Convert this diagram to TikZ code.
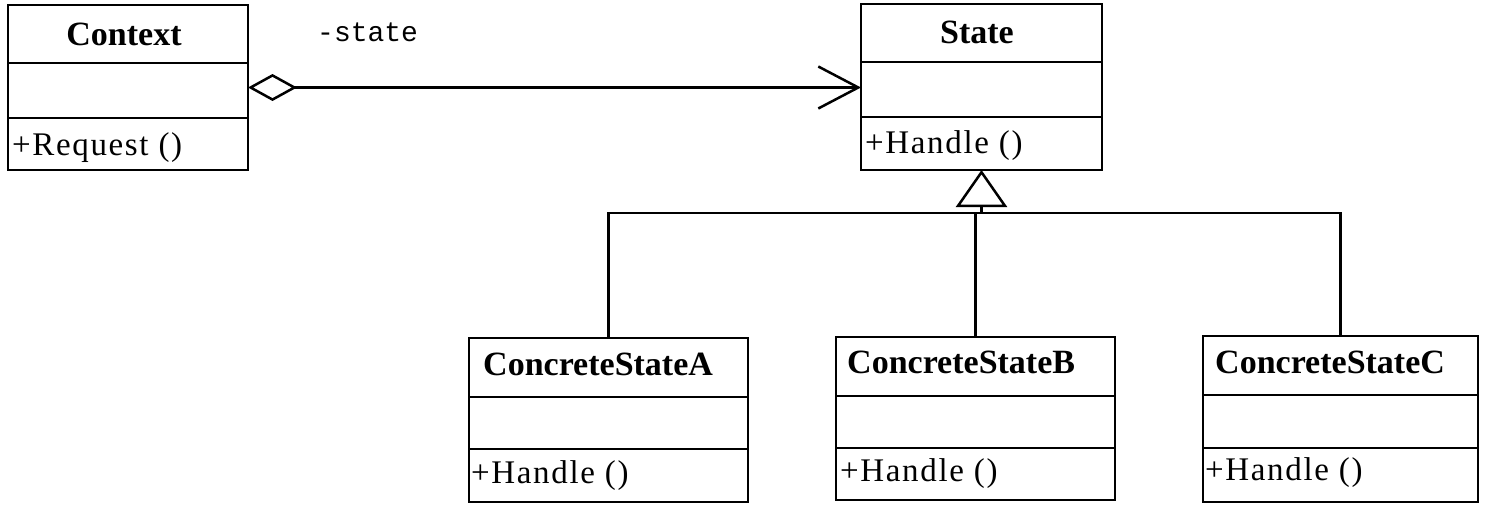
\documentclass[tikz,border=0pt]{standalone}
\usepackage{fontspec}
\setmainfont{Liberation Serif}
\newfontfamily\labelmono{Liberation Mono}
\newfontfamily\methodfont[LetterSpace=5]{Liberation Serif}
\usetikzlibrary{arrows.meta}
\tikzset{
  classbox/.style={draw, line width=2.8pt, rectangle, inner sep=0pt, outer sep=0pt, fill=white},
  divider/.style={line width=2.4pt},
  titletext/.style={inner sep=0pt, font=\fontsize{34}{40}\selectfont\bfseries},
  methodtext/.style={inner sep=0pt, anchor=base west, font=\methodfont\fontsize{33}{40}\selectfont},
  roletext/.style={inner sep=0pt, anchor=base west, font=\labelmono\fontsize{28}{34}\selectfont},
  conn/.style={line width=2.5pt},
  agg/.style={conn, {Diamond[open,length=49pt,width=27pt]}-{Straight Barb[length=40pt,width=42pt]}},
  inh/.style={conn, -{Triangle[open,length=37pt,width=51pt]}}
}
\begin{document}
\begin{tikzpicture}[x=1pt,y=-1pt]
\useasboundingbox[fill=white] (0,0) rectangle (1488,506);

% Context
\node[classbox, minimum width=240pt, minimum height=165pt] (ctx) at (128,87.5) {};
\draw[divider] (ctx.west |- 0,63) -- (ctx.east |- 0,63);
\draw[divider] (ctx.west |- 0,118) -- (ctx.east |- 0,118);
\node[titletext, anchor=base] (ctxtitle) at (124,45) {Context};
\node[methodtext] (ctxop) at (12,155) {+Request ()};

% State
\node[classbox, minimum width=241pt, minimum height=166pt] (state) at (981.5,87) {};
\draw[divider] (state.west |- 0,62) -- (state.east |- 0,62);
\draw[divider] (state.west |- 0,117) -- (state.east |- 0,117);
\node[titletext, anchor=base] (statetitle) at (977,43) {State};
\node[methodtext] (stateop) at (865,153) {+Handle ()};

% ConcreteStateA
\node[classbox, minimum width=279pt, minimum height=164pt] (a) at (608.5,420) {};
\draw[divider] (a.west |- 0,397) -- (a.east |- 0,397);
\draw[divider] (a.west |- 0,449) -- (a.east |- 0,449);
\node[titletext, anchor=base west] (atitle) at (483,375) {ConcreteStateA};
\node[methodtext] (aop) at (471,483) {+Handle ()};

% ConcreteStateB
\node[classbox, minimum width=279pt, minimum height=163pt] (b) at (975.5,418.5) {};
\draw[divider] (b.west |- 0,396) -- (b.east |- 0,396);
\draw[divider] (b.west |- 0,448) -- (b.east |- 0,448);
\node[titletext, anchor=base west] (btitle) at (847,373) {ConcreteStateB};
\node[methodtext] (bop) at (840,481) {+Handle ()};

% ConcreteStateC
\node[classbox, minimum width=275pt, minimum height=166pt] (c) at (1340.5,419) {};
\draw[divider] (c.west |- 0,395) -- (c.east |- 0,395);
\draw[divider] (c.west |- 0,448) -- (c.east |- 0,448);
\node[titletext, anchor=base west] (ctitle) at (1215,373) {ConcreteStateC};
\node[methodtext] (cop) at (1205,480) {+Handle ()};

% aggregation
\draw[agg] (ctx.east) -- (ctx.east -| state.west);
\node[roletext] (role) at (317,41) {-state};

% generalization
\coordinate (bus) at (981.5,213);
\draw[inh] (bus) -- (state.south);
\draw[conn] (a.north) |- (bus);
\draw[conn] (c.north) |- (bus);
\draw[conn] (b.north) -- (b.north |- bus);
\end{tikzpicture}
\end{document}
